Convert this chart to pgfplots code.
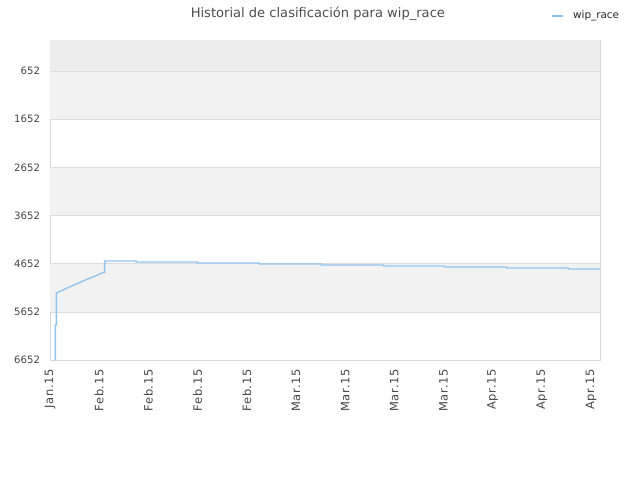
\documentclass[border=0pt]{standalone}
\usepackage{fontspec}
\setmainfont{DejaVu Sans}
\usepackage{pgfplots}
\pgfplotsset{compat=1.18}

\definecolor{linecol}{RGB}{144,196,240}
\definecolor{bandA}{RGB}{242,242,242}
\definecolor{bandTop}{RGB}{237,237,237}
\definecolor{gridcol}{RGB}{221,221,221}
\definecolor{framecol}{RGB}{216,216,216}
\definecolor{txtcol}{RGB}{68,68,68}

\begin{document}
\begin{tikzpicture}
  % 1px = 0.75pt; plot area 550x320 px at (50,40)
  \path[use as bounding box] (-37.5pt,-90pt) rectangle (442.5pt,270pt);
  \begin{axis}[
      at={(0,0)}, anchor=south west,
      scale only axis,
      width=412.5pt, height=240pt,
      xmin=0, xmax=11.18,
      ymin=8, ymax=6652,
      y dir=reverse,
      axis line style={framecol, line width=0.6pt},
      xtick={0,...,11},
      xticklabels={Jan.15,Feb.15,Feb.15,Feb.15,Feb.15,Mar.15,Mar.15,Mar.15,Mar.15,Apr.15,Apr.15,Apr.15},
      xticklabel style={rotate=90, anchor=east, font=\fontsize{8.6}{9}\selectfont\addfontfeatures{LetterSpace=6}, text=txtcol, xshift=-3.5pt},
      ytick={652,1652,2652,3652,4652,5652,6652},
      yticklabel style={font=\fontsize{7.6}{8}\selectfont, text=txtcol, xshift=-4pt},
      /pgf/number format/assume math mode=true,
      /pgf/number format/1000 sep={},
      major tick length=0pt,
      title={Historial de clasificación para wip\_race},
      title style={font=\fontsize{9.8}{11}\selectfont, text=txtcol!95, at={(0.487,1)}, yshift=5pt},
      legend style={at={(1.04,1.075)}, anchor=east, draw=none, fill=none,
                    font=\fontsize{7.8}{9}\selectfont, text=black!85,
                    legend cell align=left, inner sep=0pt},
      legend image code/.code={\draw[#1, line width=1.2pt] (0pt,0pt) -- (8pt,0pt); \path (13pt,0pt);},
    ]
    \fill[bandTop] (axis cs:0,8) rectangle (axis cs:11.18,652);
    \fill[bandA] (axis cs:0,652) rectangle (axis cs:11.18,1652);
    \fill[bandA] (axis cs:0,2652) rectangle (axis cs:11.18,3652);
    \fill[bandA] (axis cs:0,4652) rectangle (axis cs:11.18,5652);
    \draw[gridcol, line width=0.5pt] (axis cs:0,652) -- (axis cs:11.18,652);
    \draw[gridcol, line width=0.5pt] (axis cs:0,1652) -- (axis cs:11.18,1652);
    \draw[gridcol, line width=0.5pt] (axis cs:0,2652) -- (axis cs:11.18,2652);
    \draw[gridcol, line width=0.5pt] (axis cs:0,3652) -- (axis cs:11.18,3652);
    \draw[gridcol, line width=0.5pt] (axis cs:0,4652) -- (axis cs:11.18,4652);
    \draw[gridcol, line width=0.5pt] (axis cs:0,5652) -- (axis cs:11.18,5652);
    \addplot[linecol, line width=1pt] coordinates {
      (0.11,6652) (0.11,5925) (0.13,5925) (0.13,5261)
      (0.30,5180) (0.50,5090) (0.70,5000) (0.90,4915) (1.08,4835)
      (1.11,4835) (1.11,4596)
      (1.75,4596) (1.75,4617)
      (3.00,4617) (3.00,4638)
      (4.26,4638) (4.26,4659)
      (5.52,4659) (5.52,4680)
      (6.78,4680) (6.78,4700)
      (8.02,4700) (8.02,4721)
      (9.28,4721) (9.28,4742)
      (10.54,4742) (10.54,4763)
      (11.18,4763)
    };
    \addlegendentry{wip\_race}
  \end{axis}
\end{tikzpicture}
\end{document}
